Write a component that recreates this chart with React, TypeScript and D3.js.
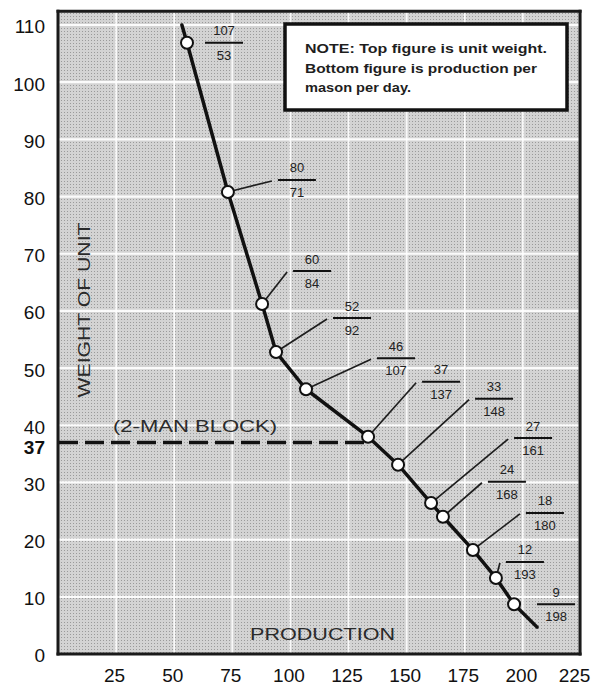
import React, { useEffect, useRef } from "react";
import * as d3 from "d3";

// labelled figures: top = unit weight, bottom = production per mason per day
const unitWeight = [107, 80, 60, 52, 46, 37, 33, 27, 24, 18, 12, 9];
const masonProduction = [53, 71, 84, 92, 107, 137, 148, 161, 168, 180, 193, 198];

// where the circles actually sit on the drawing
const plottedProduction = [55.5, 73.1, 87.8, 93.8, 106.7, 133.4, 146.3, 160.5, 165.6, 178.5, 188.4, 196.2];
const plottedWeight = [106.9, 80.8, 61.2, 52.8, 46.3, 38.0, 33.1, 26.4, 24.0, 18.2, 13.3, 8.7];
const curveStart: [number, number] = [53.3, 110];
const curveEnd: [number, number] = [206.1, 4.7];

const xTicks = [25, 50, 75, 100, 125, 150, 175, 200, 225];
const yTicks = [0, 10, 20, 30, 40, 50, 60, 70, 80, 90, 100, 110];
const blockWeight = 37;

const noteLines = ["NOTE:  Top figure is unit weight.", "Bottom figure is production per", "mason per day."];

// label placement: offset of the fraction bar from its circle, in px
const labelOffset = [[18, 0], [50, -12], [31, -33], [57, -34], [71, -31], [54, -55], [77, -66], [83, -65], [45, -35], [53, -37], [10, -16], [23, 0]];

const FONT = "'Liberation Sans', Arial, Helvetica, sans-serif";

export default function App() {
  const ref = useRef<SVGSVGElement>(null);

  useEffect(() => {
    const svg = d3.select(ref.current);
    svg.selectAll("*").remove();

    const x = d3.scaleLinear().domain([0, 225]).range([58, 581]);
    const y = d3.scaleLinear().domain([0, 110]).range([654, 25]);
    const top = y(112.4);
    const left = x(0), right = x(224.6), bottom = y(0);

    const defs = svg.append("defs");
    const pat = defs.append("pattern").attr("id", "halftone").attr("width", 3).attr("height", 3).attr("patternUnits", "userSpaceOnUse");
    pat.append("rect").attr("width", 3).attr("height", 3).attr("fill", "#d3d3d3");
    pat.append("rect").attr("x", 1).attr("y", 1).attr("width", 1).attr("height", 1).attr("fill", "#9a9a9a");

    svg.append("rect").attr("x", left).attr("y", top).attr("width", right - left).attr("height", bottom - top).attr("fill", "url(#halftone)");

    // white grid
    svg.append("g").selectAll("line").data(yTicks.filter((d) => d > 0)).join("line")
      .attr("x1", left).attr("x2", right).attr("y1", (d) => y(d)).attr("y2", (d) => y(d))
      .attr("stroke", "#fff").attr("stroke-width", 2.2).attr("opacity", 0.95);
    svg.append("g").selectAll("line").data(xTicks.filter((d) => d < 225)).join("line")
      .attr("x1", (d) => x(d)).attr("x2", (d) => x(d)).attr("y1", top).attr("y2", bottom)
      .attr("stroke", "#fff").attr("stroke-width", 1.7).attr("opacity", 0.9);

    // frame
    const frame = svg.append("g").attr("stroke", "#1a1a1a").attr("stroke-width", 3).attr("stroke-linecap", "square");
    frame.append("line").attr("x1", left).attr("x2", right).attr("y1", top).attr("y2", top);
    frame.append("line").attr("x1", left).attr("x2", right).attr("y1", bottom).attr("y2", bottom);
    frame.append("line").attr("x1", left).attr("x2", left).attr("y1", top).attr("y2", bottom);
    frame.append("line").attr("x1", right).attr("x2", right).attr("y1", top).attr("y2", bottom);

    // 2-man block dashed line, up to the 37 lb point
    const blockIdx = unitWeight.indexOf(blockWeight);
    svg.append("line").attr("x1", left + 1).attr("x2", x(plottedProduction[blockIdx]))
      .attr("y1", y(blockWeight)).attr("y2", y(blockWeight))
      .attr("stroke", "#111").attr("stroke-width", 3.5).attr("stroke-dasharray", "19 7");
    svg.append("text").attr("x", 195).attr("y", 432).attr("text-anchor", "middle")
      .attr("font-family", FONT).attr("font-size", 17).attr("fill", "#2b2b2b")
      .attr("textLength", 164).attr("lengthAdjust", "spacingAndGlyphs").text("(2-MAN BLOCK)");

    // note box
    svg.append("rect").attr("x", 285).attr("y", 24).attr("width", 282).attr("height", 86)
      .attr("fill", "#fff").attr("stroke", "#111").attr("stroke-width", 3.5);
    const noteLen = [242, 232, 106];
    svg.append("g").selectAll("text").data(noteLines).join("text")
      .attr("x", 305).attr("y", (d, i) => 53 + i * 19.5)
      .attr("font-family", FONT).attr("font-size", 13.5).attr("font-weight", "bold").attr("fill", "#1e1e1e")
      .attr("textLength", (d, i) => noteLen[i]).attr("lengthAdjust", "spacingAndGlyphs").text((d) => d);

    // main curve
    const pts: [number, number][] = [curveStart, ...plottedProduction.map((p, i) => [p, plottedWeight[i]] as [number, number]), curveEnd];
    const lineGen = d3.line<[number, number]>().x((d) => x(d[0])).y((d) => y(d[1]));
    svg.append("path").attr("d", lineGen(pts)).attr("fill", "none")
      .attr("stroke", "#111").attr("stroke-width", 3.5).attr("stroke-linejoin", "round").attr("stroke-linecap", "round");

    const cx = (i: number) => x(plottedProduction[i]);
    const cy = (i: number) => y(plottedWeight[i]);
    const idx = unitWeight.map((d, i) => i);

    // leaders
    svg.append("g").selectAll("line").data(idx.filter((i) => labelOffset[i][1] !== 0)).join("line")
      .attr("x1", (i) => cx(i)).attr("y1", (i) => cy(i))
      .attr("x2", (i) => cx(i) + labelOffset[i][0] - 6).attr("y2", (i) => cy(i) + labelOffset[i][1] + 1)
      .attr("stroke", "#1e1e1e").attr("stroke-width", 1.7);

    svg.append("g").selectAll("circle").data(idx).join("circle")
      .attr("cx", (i) => cx(i)).attr("cy", (i) => cy(i)).attr("r", 6)
      .attr("fill", "#fff").attr("stroke", "#111").attr("stroke-width", 2);

    // fraction labels
    const lab = svg.append("g").selectAll("g").data(idx).join("g")
      .attr("transform", (i) => `translate(${cx(i) + labelOffset[i][0]},${cy(i) + labelOffset[i][1]})`);
    lab.append("line").attr("x1", 0).attr("x2", 38).attr("stroke", "#111").attr("stroke-width", 2);
    lab.append("text").attr("x", 19).attr("y", -7.5).attr("text-anchor", "middle")
      .attr("font-family", FONT).attr("font-size", 13).attr("fill", "#222").text((i) => unitWeight[i]);
    lab.append("text").attr("x", 19).attr("y", 17).attr("text-anchor", "middle")
      .attr("font-family", FONT).attr("font-size", 13).attr("fill", "#222").text((i) => masonProduction[i]);

    // axes (labels only)
    const yAxis = svg.append("g").attr("transform", `translate(${left},0)`)
      .call(d3.axisLeft(y).tickValues(yTicks).tickSize(0).tickPadding(13).tickFormat((d) => String(d)));
    yAxis.select(".domain").remove();
    yAxis.selectAll("text").attr("font-family", FONT).attr("font-size", 19).attr("fill", "#111").attr("dy", "0.42em");

    svg.append("text").attr("x", left - 13).attr("y", y(blockWeight) + 5).attr("dy", "0.36em")
      .attr("text-anchor", "end").attr("font-family", FONT).attr("font-size", 19).attr("font-weight", "bold")
      .attr("fill", "#111").text(blockWeight);

    const xAxis = svg.append("g").attr("transform", `translate(0,${bottom})`)
      .call(d3.axisBottom(x).tickValues(xTicks).tickSize(0).tickPadding(14.5).tickFormat((d) => String(d)));
    xAxis.select(".domain").remove();
    xAxis.selectAll("text").attr("font-family", FONT).attr("font-size", 19).attr("fill", "#111")
      .attr("dx", (d) => (d === 225 ? -7 : -2));

    // axis titles inside the plot
    svg.append("text").attr("transform", "translate(84,310) rotate(-90)").attr("dy", "0.35em")
      .attr("text-anchor", "middle").attr("font-family", FONT).attr("font-size", 17).attr("fill", "#2a2a2a")
      .attr("textLength", 175).attr("lengthAdjust", "spacingAndGlyphs").text("WEIGHT OF UNIT");
    svg.append("text").attr("x", 322.5).attr("y", 640).attr("text-anchor", "middle")
      .attr("font-family", FONT).attr("font-size", 17).attr("fill", "#2a2a2a")
      .attr("textLength", 145).attr("lengthAdjust", "spacingAndGlyphs").text("PRODUCTION");
  }, []);

  return (
    <svg ref={ref} width={594} height={687}
      style={{ position: "absolute", left: 0, top: 0, background: "#fff", display: "block" }} />
  );
}
